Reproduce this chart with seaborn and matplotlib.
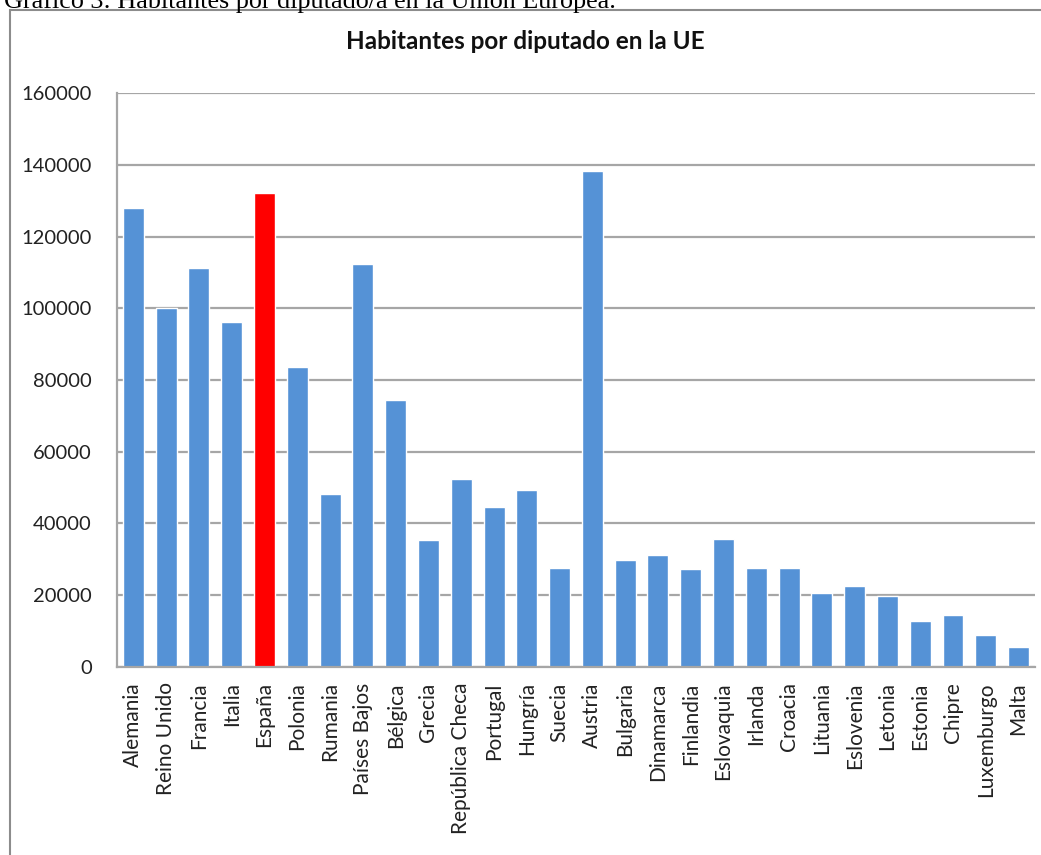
import matplotlib
matplotlib.use("Agg")
import matplotlib.pyplot as plt
import seaborn as sns
import pandas as pd
from matplotlib.patches import Rectangle

paises = ["Alemania", "Reino Unido", "Francia", "Italia", "España", "Polonia",
          "Rumania", "Países Bajos", "Bélgica", "Grecia", "República Checa",
          "Portugal", "Hungría", "Suecia", "Austria", "Bulgaria", "Dinamarca",
          "Finlandia", "Eslovaquia", "Irlanda", "Croacia", "Lituania",
          "Eslovenia", "Letonia", "Estonia", "Chipre", "Luxemburgo", "Malta"]
habitantes = [128000, 100000, 111300, 96200, 132200, 83600,
              48200, 112300, 74300, 35500, 52400,
              44700, 49200, 27700, 138300, 29800, 31200,
              27300, 35800, 27700, 27700, 20600,
              22600, 19900, 12900, 14500, 8900, 5600]
resaltado = "España"
yticks = [0, 20000, 40000, 60000, 80000, 100000, 120000, 140000, 160000]

df = pd.DataFrame({"pais": paises, "hab": habitantes})
palette = {p: ("#FF0000" if p == resaltado else "#5592D6") for p in paises}

sns.set_theme(style="white")
plt.rcParams["font.family"] = ["Lato", "DejaVu Sans"]

fig = plt.figure(figsize=(10.41, 8.55), dpi=100)
ax = fig.add_axes([0.1124, 0.2199, 0.8818, 0.6713])

sns.barplot(data=df, x="pais", y="hab", hue="pais", palette=palette,
            order=paises, hue_order=paises, legend=False, width=0.64,
            saturation=1, ax=ax)

ax.set_ylim(0, 160000)
ax.set_xlim(-0.5, len(paises) - 0.5)
ax.set_yticks(yticks)
ax.set_yticklabels([str(v) for v in yticks], fontsize=14.5, color="#222222")
ax.yaxis.grid(True, color="#A6A6A6", linewidth=1.6)
ax.set_axisbelow(True)
ax.tick_params(axis="y", length=0, pad=18)
ax.tick_params(axis="x", length=0, pad=11)
plt.setp(ax.get_xticklabels(), rotation=90, fontsize=15, color="#222222")
ax.set_xlabel("")
ax.set_ylabel("")
for s in ["top", "right"]:
    ax.spines[s].set_visible(False)
for s in ["left", "bottom"]:
    ax.spines[s].set_color("#A6A6A6")
    ax.spines[s].set_linewidth(1.6)

fig.text(525 / 1041, 1 - 49 / 855, "Habitantes por diputado en la UE",
         fontsize=17.5, fontweight="bold", color="#111111",
         ha="center", va="baseline")

# outer frame of the embedded chart
fig.patches.append(Rectangle((10 / 1041, -0.05), 1.2, 1 - 10 / 855 + 0.05,
                             transform=fig.transFigure, fill=False,
                             edgecolor="#8C8C8C", linewidth=1.5, zorder=0))

# cropped caption above the chart
fig.text(0.004, 1 - 8 / 855, "Gráfico 3: Habitantes por diputado/a en la Unión Europea.",
         fontsize=18.8, family=["Liberation Serif", "DejaVu Serif"], va="baseline",
         ha="left", color="black")

fig.savefig("out.png", dpi=100)
